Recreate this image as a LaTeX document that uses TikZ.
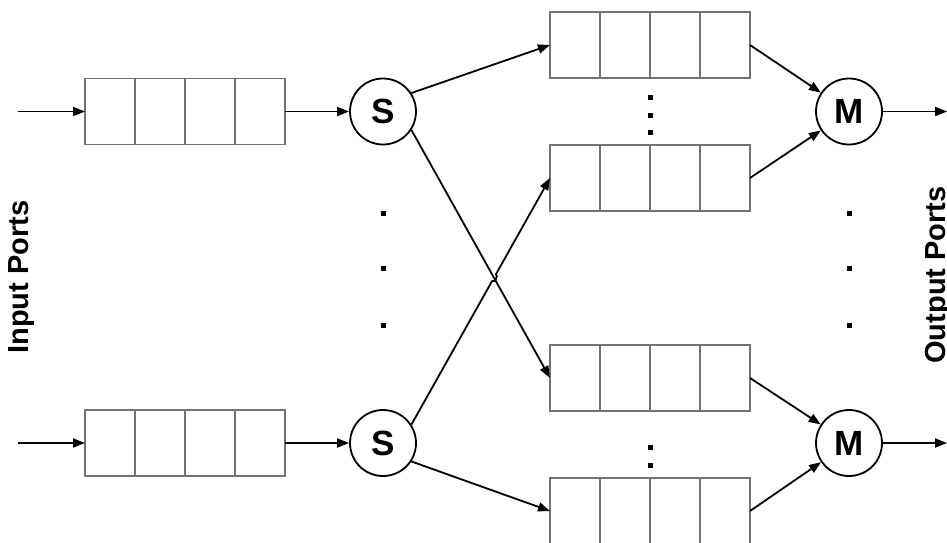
\documentclass[tikz,border=0pt]{standalone}
\usepackage{fontspec}
\setsansfont{Liberation Sans}
\usetikzlibrary{arrows.meta,calc,intersections}
\tikzset{
  arr/.style={line width=1.8pt,-{Triangle[length=12pt,width=9pt]}},
  qbox/.style={draw=black!55,line width=1.2pt,minimum width=200pt,minimum height=66pt,inner sep=0pt,outer sep=0pt},
  sw/.style={circle,draw,line width=1.8pt,minimum size=66pt,inner sep=0pt,font=\sffamily\bfseries\fontsize{35}{35}\selectfont},
  dotsq/.style={fill=black,minimum size=5pt,inner sep=0pt},
  lab/.style={font=\sffamily\bfseries\fontsize{29}{29}\selectfont,rotate=90}
}
\newcommand{\qcells}[1]{%
  \foreach \i in {1,2,3} {\draw[draw=black!55,line width=1.2pt] ($(#1.north west)!\i/4!(#1.north east)$) -- ($(#1.south west)!\i/4!(#1.south east)$);}}
\begin{document}
\begin{tikzpicture}[x=1pt,y=-1pt]
\useasboundingbox (0,0) rectangle (947,542);
\clip (0,0) rectangle (947,542);
% left queues
\node[qbox] (l1) at (185,111.5) {};
\node[qbox] (l2) at (185,443) {};
\qcells{l1}\qcells{l2}
\coordinate (i1) at (18,111.5);
\coordinate (i2) at (18,443);
\draw[arr] (i1) -- (l1.west);
\draw[arr] (i2) -- (l2.west);
% splitters
\node[sw] (s1) at (383,111.5) {S};
\node[sw] (s2) at (383,443) {S};
\draw[arr] (l1.east) -- (s1.west);
\draw[arr] (l2.east) -- (s2.west);
% right queues
\node[qbox] (q1) at (650,45) {};
\node[qbox] (q2) at (650,178) {};
\node[qbox] (q3) at (650,378) {};
\node[qbox] (q4) at (650,511) {};
\qcells{q1}\qcells{q2}\qcells{q3}\qcells{q4}
% mergers
\node[sw] (m1) at (849,111.5) {M};
\node[sw] (m2) at (849,443) {M};
% S to queues
\draw[arr] (s1.33) -- (q1.west);
\path[name path=pa] (s1.-33) -- (q3.west);
\path[name path=pb] (s2.33) -- (q2.west);
\path[name intersections={of=pa and pb,by=X}];
\draw[arr] (s1.-33) -- (q3.west);
\draw[arr] (s2.33) -- ($(X)!4pt!(s2.33)$) to[bend right=90] ($(X)!4pt!(q2.west)$) -- (q2.west);
\draw[arr] (s2.-33) -- (q4.west);
% queues to M
\draw[arr] (q1.east) -- (m1);
\draw[arr] (q2.east) -- (m1);
\draw[arr] (q3.east) -- (m2);
\draw[arr] (q4.east) -- (m2);
\coordinate (o1) at (947,111.5);
\coordinate (o2) at (947,443);
\draw[arr] (m1.east) -- (o1);
\draw[arr] (m2.east) -- (o2);
% dots
\foreach \y [count=\k] in {213,268,325} {
  \node[dotsq] (ds\k) at (383,\y) {};
  \node[dotsq] (dm\k) at (849,\y) {};
}
\foreach \y [count=\k] in {97,115,132} {\node[dotsq] (dq\k) at (650,\y) {};}
\foreach \y [count=\k] in {447,465} {\node[dotsq] (dr\k) at (650,\y) {};}
% labels
\node[lab] (inp) at (22,277) {Input Ports};
\node[lab] (outp) at (938,275) {Output Ports};
\end{tikzpicture}
\end{document}
